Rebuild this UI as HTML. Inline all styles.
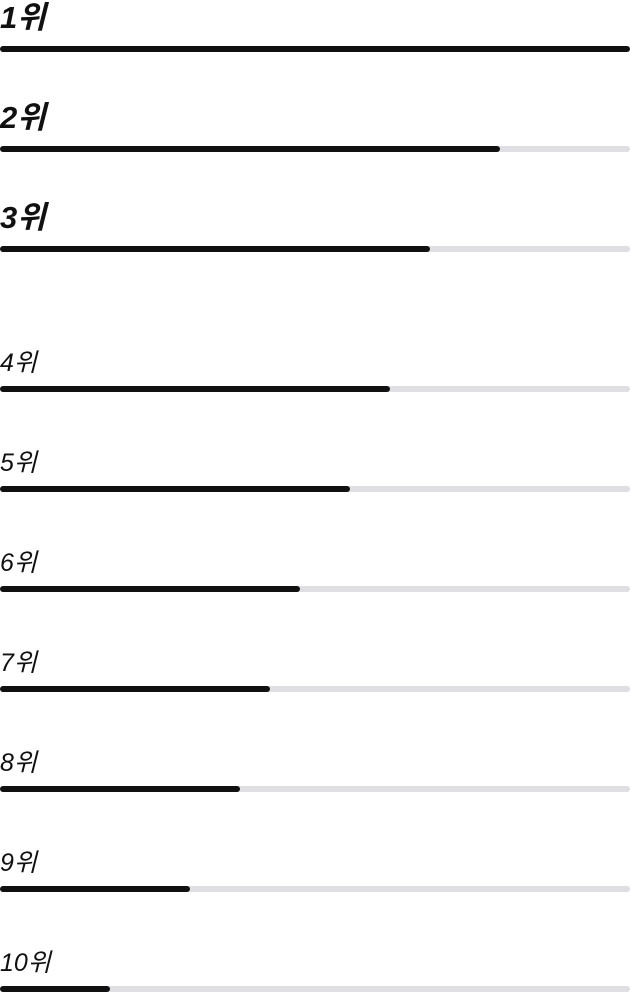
<!DOCTYPE html>
<html><head><meta charset="utf-8">
<style>
html,body{margin:0;padding:0;background:#fff;width:630px;height:992px;overflow:hidden;font-family:"Liberation Sans","Noto Sans CJK KR",sans-serif;}
#chart{position:relative;width:630px;height:992px;}
.lbl{position:absolute;left:0;font-style:italic;color:#111;white-space:nowrap;line-height:1;}
.big{font-size:31px;font-weight:bold;}
.small{font-size:25px;}
.track{position:absolute;left:0;width:630px;height:6px;border-radius:3px;background:#dfdfe3;}
.bar{position:absolute;left:0;top:0;height:6px;border-radius:3px;background:#111;}
</style></head>
<body>
<div id="chart"></div>
<script>
const ranks = ["1위","2위","3위","4위","5위","6위","7위","8위","9위","10위"];
const values = [630,500,430,390,350,300,270,240,190,110];
const maxValue = 630;
const chart = document.getElementById('chart');
function xScale(v){ return v / maxValue * 630; }
ranks.forEach((r,i)=>{
  const cy = i < 3 ? 49 + 100*i : 389 + 100*(i-3);
  const big = i < 3;
  const lbl = document.createElement('div');
  lbl.className = 'lbl ' + (big ? 'big' : 'small');
  lbl.textContent = r;
  lbl.style.top = (big ? cy - 47 : cy - 38) + 'px';
  
  
  chart.appendChild(lbl);
  const track = document.createElement('div');
  track.className = 'track';
  track.style.top = (cy - 3) + 'px';
  
  
  const bar = document.createElement('div');
  bar.className = 'bar';
  bar.style.width = xScale(values[i]) + 'px';
  
  
  track.appendChild(bar);
  chart.appendChild(track);
});
</script>
</body></html>
